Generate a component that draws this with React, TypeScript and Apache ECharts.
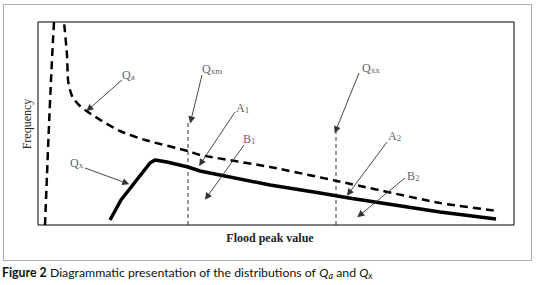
import React, { useEffect, useRef } from "react";
import * as echarts from "echarts";

// Qa (dashed) curve, in plot units (x: flood peak value, y: frequency)
const qaX = [7, 9, 11, 13, 15, 16, 17, 24, 26, 29, 30, 32, 35, 42, 50, 64, 82, 107, 150, 162, 232, 299, 402, 460];
const qaY = [0, 50, 100, 145, 185, 203, 220, 220, 203, 170, 145, 135, 127, 119, 113, 104, 94, 85, 74, 70, 58, 44, 22, 14];
// Qx (solid) curve
const qxX = [72, 83, 112, 117, 129, 150, 162, 232, 282, 311, 402, 458];
const qxY = [5, 25, 62, 65, 63, 58, 54, 40, 32, 27, 13, 6];
// vertical markers Qxm, Qxx
const markX = [150, 298];
const markTop = [102, 95];
// annotation arrows
const arrowFrom = [[84, 145], [164, 150], [197, 113], [206, 80], [47, 57], [321, 152], [349, 83], [367, 47]];
const arrowTo = [[51, 116], [153, 105], [163, 62], [169, 28], [88, 42], [298, 95], [311, 32], [322, 10]];
// annotation labels
const labelMain = ["Q", "Q", "A", "B", "Q", "Q", "A", "B"];
const labelSub = ["a", "xm", "1", "1", "x", "xx", "2", "2"];
const labelPos = [[84, 150], [164, 156], [198, 117], [205, 86], [32, 62], [324, 157], [350, 89], [369, 49]];

const X_MAX = 476;
const Y_MAX = 203;
const SERIF = "'Liberation Serif', 'DejaVu Serif', serif";
const SANS = "Lato, 'Noto Sans', sans-serif";

export default function App() {
  const ref = useRef<HTMLDivElement>(null);
  useEffect(() => {
    if (!ref.current) return;
    const chart = echarts.init(ref.current, null, { renderer: "svg" });
    const qaData = qaX.map((x, i) => [x, qaY[i]]);
    const qxData = qxX.map((x, i) => [x, qxY[i]]);
    const markSeries = markX.map((x, i) => ({
      type: "line",
      data: [[x, 0], [x, markTop[i]]],
      symbol: "none",
      lineStyle: { color: "#333", width: 1, type: [4, 3] },
      z: 2,
    }));
    const option: any = {
      animation: false,
      backgroundColor: "#fff",
      grid: {
        left: 38,
        top: 22,
        width: X_MAX,
        height: Y_MAX,
        show: true,
        borderColor: "#000",
        borderWidth: 1,
        backgroundColor: "transparent",
      },
      xAxis: {
        type: "value",
        min: 0,
        max: X_MAX,
        axisLine: { show: false },
        axisTick: { show: false },
        axisLabel: { show: false },
        splitLine: { show: false },
      },
      yAxis: {
        type: "value",
        min: 0,
        max: Y_MAX,
        axisLine: { show: false },
        axisTick: { show: false },
        axisLabel: { show: false },
        splitLine: { show: false },
      },
      series: [
        {
          type: "line",
          data: qaData,
          symbol: "none",
          smooth: 0.2,
          clip: true,
          lineStyle: { color: "#000", width: 2.5, type: [8, 5] },
          z: 3,
        },
        {
          type: "line",
          data: qxData,
          symbol: "none",
          clip: true,
          lineStyle: { color: "#000", width: 3.5, join: "round" },
          z: 3,
        },
        ...markSeries,
        {
          type: "lines",
          coordinateSystem: "cartesian2d",
          symbol: ["none", "triangle"],
          symbolSize: [0, 7],
          lineStyle: { color: "#333", width: 0.9, opacity: 1, curveness: 0 },
          data: arrowFrom.map((f, i) => ({ coords: [f, arrowTo[i]] })),
          z: 4,
        },
        {
          type: "scatter",
          symbolSize: 0,
          silent: true,
          data: labelPos.map((p, i) => ({ value: p, main: labelMain[i], sub: labelSub[i] })),
          label: {
            show: true,
            position: [0, 0],
            align: "left",
            verticalAlign: "middle",
            formatter: (p: any) => `{m|${p.data.main}}{s|${p.data.sub}}`,
            rich: {
              m: { fontFamily: SERIF, fontSize: 12, color: "#333", lineHeight: 13, verticalAlign: "top" },
              s: { fontFamily: SERIF, fontSize: 9, color: "#333", lineHeight: 10, padding: [6, 0, 0, 0], verticalAlign: "bottom" },
            },
          },
          z: 5,
        },
      ],
      graphic: [
        {
          type: "rect",
          shape: { x: 3.5, y: 4.5, width: 528, height: 256 },
          style: { fill: "none", stroke: "#aaa", lineWidth: 1 },
          silent: true,
          z: -1,
        },
        {
          type: "text",
          x: 270,
          y: 238,
          style: {
            text: "Flood peak value",
            font: `bold 12px ${SERIF}`,
            fill: "#222",
            align: "center",
            verticalAlign: "middle",
          },
        },
        {
          type: "text",
          x: 27,
          y: 124,
          rotation: Math.PI / 2,
          style: {
            text: "Frequency",
            font: `12px ${SERIF}`,
            fill: "#222",
            align: "center",
            verticalAlign: "middle",
          },
        },
        {
          type: "text",
          x: 2,
          y: 273,
          style: {
            text: "{b|Figure 2} {n|Diagrammatic presentation of the distributions of }{i|Q}{si|a}{n| and }{i|Q}{si|x}",
            verticalAlign: "middle",
            align: "left",
            rich: {
              b: { fontFamily: SANS, fontWeight: "bold", fontSize: 12.3, fill: "#111", lineHeight: 14, verticalAlign: "top" },
              n: { fontFamily: SANS, fontSize: 12.3, fill: "#111", lineHeight: 14, verticalAlign: "top" },
              i: { fontFamily: SANS, fontStyle: "italic", fontSize: 12.3, fill: "#111", lineHeight: 14, verticalAlign: "top" },
              si: { fontFamily: SANS, fontStyle: "italic", fontSize: 9, fill: "#111", lineHeight: 10, padding: [7, 0, 0, 0], verticalAlign: "bottom" },
            },
          },
        },
      ],
    };
    chart.setOption(option);
    return () => chart.dispose();
  }, []);
  return (
    <div
      ref={ref}
      style={{ position: "fixed", left: 0, top: 0, width: 536, height: 285, background: "#fff" }}
    />
  );
}
